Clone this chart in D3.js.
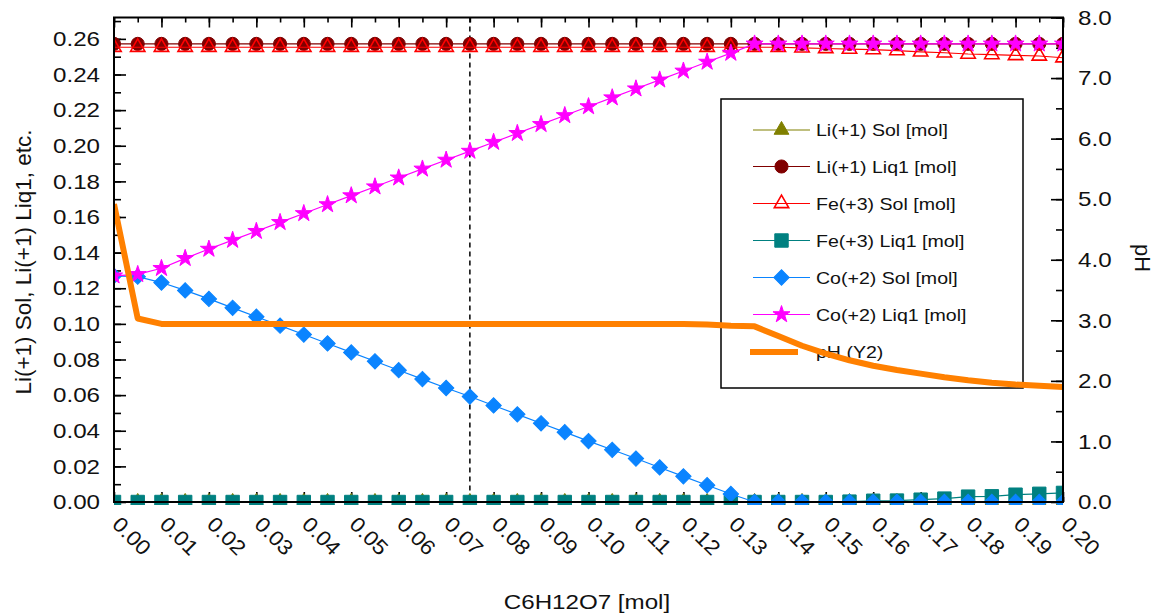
<!DOCTYPE html>
<html>
<head>
<meta charset="utf-8">
<script src="https://cdn.jsdelivr.net/npm/d3@7"></script>
<style>
  body { margin: 0; background: #fff; }
  text { font-family: "Liberation Sans", Arial, sans-serif; fill: #111; }
</style>
</head>
<body>
<div id="chart"></div>
<script>
// x values (C6H12O7 [mol])
const xValues = [0.000, 0.005, 0.010, 0.015, 0.020, 0.025, 0.030, 0.035, 0.040, 0.045,
                 0.050, 0.055, 0.060, 0.065, 0.070, 0.075, 0.080, 0.085, 0.090, 0.095,
                 0.100, 0.105, 0.110, 0.115, 0.120, 0.125, 0.130, 0.135, 0.140, 0.145,
                 0.150, 0.155, 0.160, 0.165, 0.170, 0.175, 0.180, 0.185, 0.190, 0.195, 0.200];

const liSol = [0, 0, 0, 0, 0, 0, 0, 0, 0, 0, 0, 0, 0, 0, 0, 0, 0, 0, 0, 0, 0,
               0, 0, 0, 0, 0, 0, 0, 0, 0, 0, 0, 0, 0, 0, 0, 0, 0, 0, 0, 0];

const liLiq = [0.2572, 0.2572, 0.2572, 0.2572, 0.2572, 0.2572, 0.2572, 0.2572, 0.2572, 0.2572,
               0.2572, 0.2572, 0.2572, 0.2572, 0.2572, 0.2572, 0.2572, 0.2572, 0.2572, 0.2572,
               0.2572, 0.2572, 0.2572, 0.2572, 0.2572, 0.2572, 0.2572, 0.2572, 0.2572, 0.2572,
               0.2572, 0.2572, 0.2572, 0.2572, 0.2572, 0.2572, 0.2572, 0.2572, 0.2572, 0.2572, 0.2572];

const feSol = [0.2553, 0.2553, 0.2553, 0.2553, 0.2553, 0.2553, 0.2553, 0.2553, 0.2553, 0.2553,
               0.2553, 0.2553, 0.2553, 0.2553, 0.2553, 0.2553, 0.2553, 0.2553, 0.2553, 0.2553,
               0.2553, 0.2553, 0.2553, 0.2553, 0.2553, 0.2553, 0.2553, 0.2553, 0.2553, 0.2550,
               0.2546, 0.2543, 0.2540, 0.2534, 0.2527, 0.2522, 0.2515, 0.2512, 0.2507, 0.2504, 0.2494];

const feLiq = [0, 0, 0, 0, 0, 0, 0, 0, 0, 0, 0, 0, 0, 0, 0, 0, 0, 0, 0, 0,
               0, 0, 0, 0, 0, 0, 0, 0, 0, 0, 0,
               0.0002, 0.0007, 0.0008, 0.0013, 0.0019, 0.0030, 0.0032, 0.0041, 0.0046, 0.0051];

const coSol = [0.1270, 0.1265, 0.1232, 0.1188, 0.1140, 0.1090, 0.1040, 0.0990, 0.0940, 0.0890,
               0.0840, 0.0790, 0.0740, 0.0690, 0.0640, 0.0592, 0.0542, 0.0492, 0.0442, 0.0392,
               0.0342, 0.0293, 0.0244, 0.0194, 0.0144, 0.0094, 0.0045, 0, 0, 0,
               0, 0, 0, 0, 0, 0, 0, 0, 0, 0, 0];

const coLiq = [0.1270, 0.1278, 0.1312, 0.1368, 0.1420, 0.1470, 0.1520, 0.1570, 0.1620, 0.1670,
               0.1720, 0.1770, 0.1820, 0.1870, 0.1920, 0.1970, 0.2020, 0.2070, 0.2120, 0.2170,
               0.2220, 0.2270, 0.2320, 0.2370, 0.2420, 0.2470, 0.2520, 0.2572, 0.2572, 0.2572,
               0.2572, 0.2572, 0.2572, 0.2572, 0.2572, 0.2572, 0.2572, 0.2572, 0.2572, 0.2572, 0.2572];

const pH = [4.92, 3.03, 2.94, 2.94, 2.94, 2.94, 2.94, 2.94, 2.94, 2.94,
            2.94, 2.94, 2.94, 2.94, 2.94, 2.94, 2.94, 2.94, 2.94, 2.94,
            2.94, 2.94, 2.94, 2.94, 2.94, 2.93, 2.91, 2.90, 2.74, 2.58,
            2.45, 2.34, 2.25, 2.18, 2.12, 2.06, 2.01, 1.97, 1.94, 1.92, 1.90];

// tick labels
const xTicks = [0.00, 0.01, 0.02, 0.03, 0.04, 0.05, 0.06, 0.07, 0.08, 0.09, 0.10,
                0.11, 0.12, 0.13, 0.14, 0.15, 0.16, 0.17, 0.18, 0.19, 0.20];
const leftTicks = [0.00, 0.02, 0.04, 0.06, 0.08, 0.10, 0.12, 0.14, 0.16, 0.18, 0.20, 0.22, 0.24, 0.26];
const rightTicks = [0, 1, 2, 3, 4, 5, 6, 7, 8];
const markerX = 0.075;

document.addEventListener("DOMContentLoaded", function(){

  const widthValue = 1158;
  const heightValue = 615;
  const left = 114, right = 1063, top = 17.5, bottom = 502;

  const svg = d3.select("#chart")
                .append("svg")
                .attr("width", widthValue)
                .attr("height", heightValue);

  // image is a bit wide, so stretch text sideways to match
  function stretch(sel, k) {
    sel.each(function() {
      const w = this.getComputedTextLength();
      d3.select(this).attr("textLength", w * k).attr("lengthAdjust", "spacingAndGlyphs");
    });
  }

  const xScale = d3.scaleLinear().domain([0, 0.2]).range([left, right]);
  const yScale = d3.scaleLinear().domain([0, 0.272]).range([bottom, top]);
  const y2Scale = d3.scaleLinear().domain([0, 8]).range([bottom, top]);

  svg.append("defs").append("clipPath")
      .attr("id", "plot-clip")
    .append("rect")
      .attr("x", left).attr("y", top)
      .attr("width", right - left).attr("height", bottom - top + 3);

  // minor tick positions
  const xMinor = d3.range(0, 41).map(i => i * 0.005);
  const leftMinor = d3.range(0, 28).map(i => i * 0.01);
  const rightMinor = d3.range(0, 17).map(i => i * 0.5);

  function styleAxis(g) {
    g.select(".domain").remove();
    g.selectAll("line").attr("stroke", "#000").attr("stroke-width", 1.6);
  }

  // left axis
  svg.append("g").attr("transform", `translate(${left},0)`)
      .call(d3.axisLeft(yScale).tickValues(leftMinor).tickSize(-7).tickFormat(""))
      .call(styleAxis);
  const yAxis = svg.append("g").attr("transform", `translate(${left},0)`)
      .call(d3.axisLeft(yScale).tickValues(leftTicks).tickSize(-12).tickPadding(14)
              .tickFormat(d3.format(".2f")))
      .call(styleAxis);
  yAxis.selectAll("text").style("font-size", "21px").attr("fill", "#111");
  stretch(yAxis.selectAll("text"), 1.15);

  // right axis (pH)
  svg.append("g").attr("transform", `translate(${right},0)`)
      .call(d3.axisRight(y2Scale).tickValues(rightMinor).tickSize(-7).tickFormat(""))
      .call(styleAxis);
  const y2Axis = svg.append("g").attr("transform", `translate(${right},0)`)
      .call(d3.axisRight(y2Scale).tickValues(rightTicks).tickSize(-12).tickPadding(15)
              .tickFormat(d3.format(".1f")))
      .call(styleAxis);
  y2Axis.selectAll("text").style("font-size", "21px").attr("fill", "#111");
  stretch(y2Axis.selectAll("text"), 1.15);

  // top axis, ticks only
  svg.append("g").attr("transform", `translate(0,${top})`)
      .call(d3.axisTop(xScale).tickValues(xMinor).tickSize(-5).tickFormat(""))
      .call(styleAxis);
  svg.append("g").attr("transform", `translate(0,${top})`)
      .call(d3.axisTop(xScale).tickValues(xTicks).tickSize(-10).tickFormat(""))
      .call(styleAxis);

  // bottom axis
  svg.append("g").attr("transform", `translate(0,${bottom})`)
      .call(d3.axisBottom(xScale).tickValues(xMinor).tickSize(-5).tickFormat(""))
      .call(styleAxis);
  const xAxis = svg.append("g").attr("transform", `translate(0,${bottom})`)
      .call(d3.axisBottom(xScale).tickValues(xTicks).tickSize(-10).tickFormat(d3.format(".2f")))
      .call(styleAxis);
  xAxis.selectAll("text")
      .style("font-size", "21px")
      .attr("fill", "#111")
      .attr("x", 0).attr("y", 0).attr("dy", "0.71em")
      .attr("text-anchor", "start")
      .attr("transform", "translate(7,13) rotate(45)");
  stretch(xAxis.selectAll("text"), 1.08);

  // axis titles
  const xTitle = svg.append("text")
      .attr("x", 587).attr("y", 609)
      .attr("text-anchor", "middle")
      .style("font-size", "21px")
      .text("C6H12O7 [mol]");
  stretch(xTitle, 1.15);

  svg.append("text")
      .attr("transform", "translate(31,262) rotate(-90)")
      .attr("text-anchor", "middle")
      .style("font-size", "22.5px")
      .text("Li(+1) Sol, Li(+1) Liq1, etc.");

  svg.append("text")
      .attr("transform", "translate(1135,258) rotate(90)")
      .attr("text-anchor", "middle")
      .style("font-size", "22px")
      .text("pH");

  // dashed marker line
  svg.append("line")
      .attr("x1", xScale(markerX)).attr("x2", xScale(markerX))
      .attr("y1", top).attr("y2", bottom)
      .attr("stroke", "#000")
      .attr("stroke-width", 1.5)
      .attr("stroke-dasharray", "5,4");

  const series = [
    { name: "Li(+1) Sol [mol]",  values: liSol, color: "#808000", symbol: d3.symbolTriangle, size: 95,  fill: true,  rot: 0 },
    { name: "Li(+1) Liq1 [mol]", values: liLiq, color: "#800000", symbol: d3.symbolCircle,   size: 135, fill: true,  rot: 0 },
    { name: "Fe(+3) Sol [mol]",  values: feSol, color: "#ff0000", symbol: d3.symbolTriangle, size: 90,  fill: false, rot: 0 },
    { name: "Fe(+3) Liq1 [mol]", values: feLiq, color: "#008080", symbol: d3.symbolSquare,   size: 180, fill: true,  rot: 0 },
    { name: "Co(+2) Sol [mol]",  values: coSol, color: "#0a84ff", symbol: d3.symbolSquare,   size: 118, fill: true,  rot: 45 },
    { name: "Co(+2) Liq1 [mol]", values: coLiq, color: "#ff00ff", symbol: d3.symbolStar,     size: 90,  fill: true,  rot: 0 }
  ];

  const plot = svg.append("g").attr("clip-path", "url(#plot-clip)");

  series.forEach(function(s) {
    const pts = xValues.map((x, i) => [x, s.values[i]]);
    plot.append("path")
        .datum(pts)
        .attr("fill", "none")
        .attr("stroke", s.color)
        .attr("stroke-width", 1.2)
        .attr("d", d3.line().x(d => xScale(d[0])).y(d => yScale(d[1])));
    plot.append("g")
        .selectAll("path")
        .data(pts)
        .enter()
        .append("path")
          .attr("d", d3.symbol().type(s.symbol).size(s.size))
          .attr("transform", d => `translate(${xScale(d[0])},${yScale(d[1])}) rotate(${s.rot})`)
          .attr("fill", s.fill ? s.color : "none")
          .attr("stroke", s.color)
          .attr("stroke-width", s.fill ? 1 : 1.6);
  });

  // legend
  const legend = svg.append("g");
  legend.append("rect")
      .attr("x", 721).attr("y", 99)
      .attr("width", 302).attr("height", 289)
      .attr("fill", "none")
      .attr("stroke", "#000")
      .attr("stroke-width", 1.5);

  const rowY = [130, 166.5, 203.5, 240.5, 277.5, 314.5, 352];
  series.forEach(function(s, i) {
    const ly = rowY[i];
    legend.append("line")
        .attr("x1", 753).attr("x2", 810).attr("y1", ly).attr("y2", ly)
        .attr("stroke", s.color).attr("stroke-width", 1.2);
    legend.append("path")
        .attr("d", d3.symbol().type(s.symbol).size(s.size))
        .attr("transform", `translate(781.5,${ly}) rotate(${s.rot})`)
        .attr("fill", s.fill ? s.color : "none")
        .attr("stroke", s.color)
        .attr("stroke-width", s.fill ? 1 : 1.6);
    const t = legend.append("text")
        .attr("x", 816).attr("y", ly).attr("dy", "0.36em")
        .style("font-size", "17px")
        .text(s.name);
    stretch(t, 1.15);
  });
  legend.append("line")
      .attr("x1", 750).attr("x2", 798).attr("y1", rowY[6]).attr("y2", rowY[6])
      .attr("stroke", "#ff8000").attr("stroke-width", 6);
  const pt = legend.append("text")
      .attr("x", 816).attr("y", rowY[6]).attr("dy", "0.36em")
      .style("font-size", "17px")
      .text("pH (Y2)");
  stretch(pt, 1.15);

  // pH line on the right axis, drawn last
  svg.append("path")
      .datum(xValues.map((x, i) => [x, pH[i]]))
      .attr("clip-path", "url(#plot-clip)")
      .attr("fill", "none")
      .attr("stroke", "#ff8000")
      .attr("stroke-width", 6)
      .attr("stroke-linejoin", "round")
      .attr("d", d3.line().x(d => xScale(d[0])).y(d => y2Scale(d[1])));

  // frame
  svg.append("rect")
      .attr("x", left).attr("y", top)
      .attr("width", right - left).attr("height", bottom - top)
      .attr("fill", "none")
      .attr("stroke", "#000")
      .attr("stroke-width", 2);
});
</script>
</body>
</html>
